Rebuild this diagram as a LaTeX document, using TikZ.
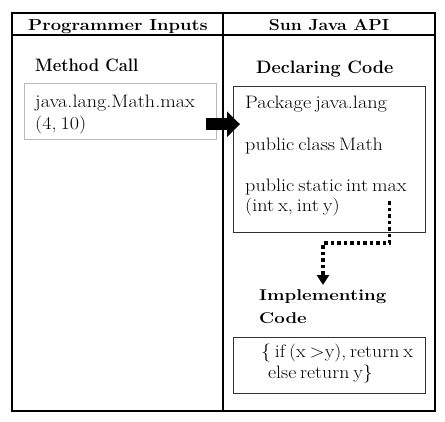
\documentclass[tikz,border=0pt]{standalone}
\usepackage{graphicx}
\usetikzlibrary{arrows.meta,calc}
\newcommand{\hstr}[2]{\scalebox{#1}[1]{#2}}
\newcommand{\tightsp}{\spaceskip=3.5pt\relax}
\begin{document}
\begin{tikzpicture}[x=1pt,y=-1pt,
  txt/.style={anchor=base west, inner sep=0pt, font=\fontsize{18}{21}\selectfont\tightsp},
  head/.style={anchor=base west, inner sep=0pt, font=\fontsize{#1}{21}\selectfont\bfseries},
  box/.style={draw, line width=1.2pt, inner sep=0pt, anchor=north west},
  dotline/.style={line width=3.5pt, dash pattern=on 3.5pt off 3pt, -{Triangle[width=12pt,length=10pt]}},
  bigarrow/.style={line width=12.5pt, -{Triangle[width=25pt,length=13pt]}}]
\useasboundingbox (0,0) rectangle (445,421);
\draw[line width=2pt] (12,13) rectangle (435,411);
\draw[line width=2pt] (12,35) -- (435,35);
\draw[line width=2pt] (223,13) -- (223,411);
\node[head=16] (hprog) at (28,30) {\hstr{1.15}{Programmer Inputs}};
\node[head=16, anchor=base] (hsun) at (329,30) {\hstr{1.1}{Sun Java API}};
\node[head=18] (tmeth) at (35,71.7) {\hstr{0.92}{Method Call}};
\node[box, draw=gray!55, line width=0.8pt, minimum width=192pt, minimum height=56pt] (meth) at (24,83.3) {};
\node[txt] (m1) at (35,107.3) {\hstr{1.12}{java.lang.Math.max}};
\node[txt] (m2) at (35,129) {\hstr{1.12}{(4, 10)}};
\node[head=18] (tdecl) at (256,73.3) {Declaring Code};
\node[box, draw=black!80, minimum width=192pt, minimum height=146pt] (decl) at (233,86) {};
\node[txt] (d1) at (245,108.3) {\hstr{1.13}{Package java.lang}};
\node[txt] (d2) at (245,150) {\hstr{1.12}{public class Math}};
\node[txt] (d3) at (245,191) {\hstr{1.12}{public static int max}};
\node[txt] (d4) at (245,211.7) {\hstr{1.12}{(int x, int y)}};
\node[head=15.6] (timpl1) at (259,300.7) {\hstr{1.2}{Implementing}};
\node[head=15.6] (timpl2) at (259,323) {\hstr{1.2}{Code}};
\node[box, draw=black!80, minimum width=192pt, minimum height=56pt] (impl) at (233,337) {};
\node[txt] (i1) at (261,357) {\hstr{1.1}{\{ if (x >y), return x}};
\node[txt] (i2) at (268,378) {\hstr{1.1}{else return y\}}};
\coordinate (astart) at ($(meth.east)+(-11,12.5)$);
\coordinate (aend) at ($(decl.west |- astart)+(7,0)$);
\draw[bigarrow](astart) -- (aend);
\coordinate (dtop) at (389.5,201);
\coordinate (dbend) at (323,243);
\coordinate (dend) at (323,285);
\draw[dotline](dtop) |- (dbend) -- (dend);
\end{tikzpicture}
\end{document}
